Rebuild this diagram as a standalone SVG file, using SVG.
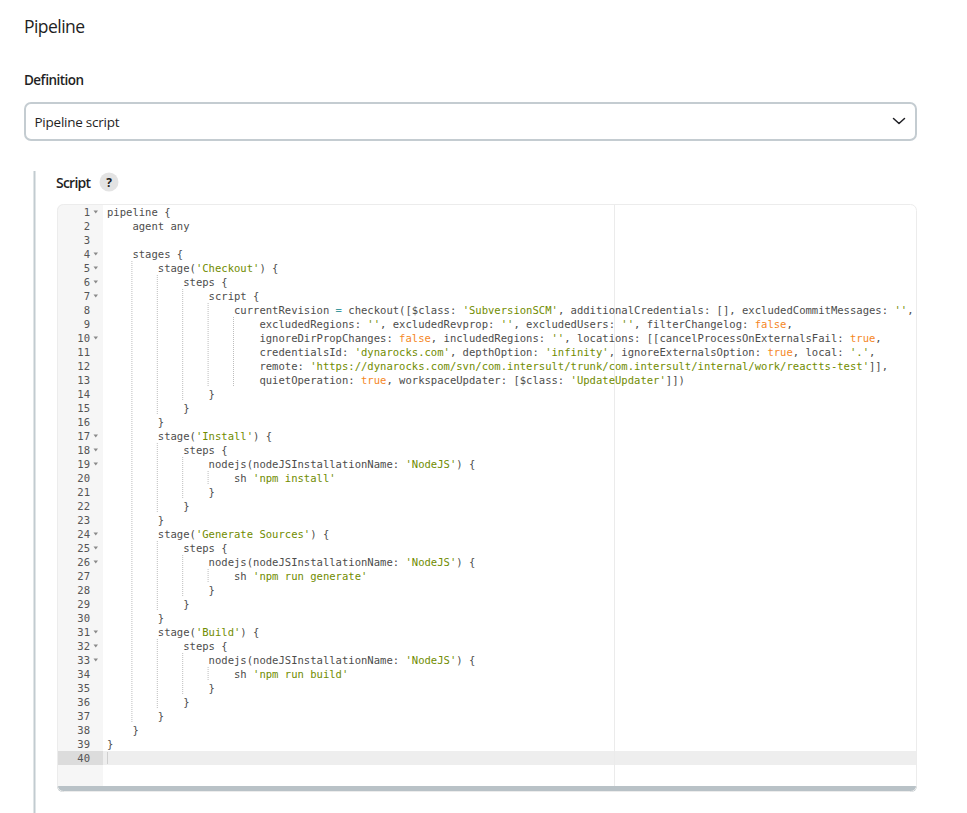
<svg xmlns="http://www.w3.org/2000/svg" width="967" height="813" viewBox="0 0 967 813">
<style>
.ui{font-family:"Open Sans","Noto Sans","Liberation Sans",sans-serif;fill:#1f1f24}
.code{font-family:"DejaVu Sans Mono","Liberation Mono",monospace;font-size:10.55px;fill:#4d4d4c}
.ln{font-family:"DejaVu Sans Mono","Liberation Mono",monospace;font-size:10.55px;fill:#555;text-anchor:end}
.s{fill:#718c00}
.c{fill:#f5871f}
.o{fill:#3e999f}
.g{stroke:#bdbdbd;stroke-width:1;stroke-dasharray:1 1;fill:none}
.f{fill:#8a8a8a}
</style>
<defs>
<clipPath id="ed"><rect x="57" y="204" width="860" height="588" rx="6"/></clipPath>
</defs>
<rect width="967" height="813" fill="#fff"/>

<g id="header">
<text class="ui" x="24" y="33" font-size="17.5" font-weight="500" textLength="61">Pipeline</text>
<text class="ui" x="24" y="85" font-size="13.5" font-weight="600" textLength="60">Definition</text>
</g>

<g id="select">
<rect x="25" y="103" width="891" height="37" rx="6" fill="#fff" stroke="#c4ccd1" stroke-width="2"/>
<text class="ui" x="34.5" y="127" font-size="13.5" textLength="85">Pipeline script</text>
<path d="M893.5 118.5 L899 123.5 L904.5 118.5" fill="none" stroke="#1f1f24" stroke-width="1.5" stroke-linecap="round" stroke-linejoin="round"/>
</g>

<rect id="bar" x="33.5" y="171" width="2" height="642" fill="#c2cbd0"/>

<g id="script-label">
<text class="ui" x="56" y="187.5" font-size="14" font-weight="600" textLength="35">Script</text>
<circle cx="109" cy="182" r="9.5" fill="#e3e3e3"/>
<text class="ui" x="109" y="186.5" font-size="12" font-weight="700" text-anchor="middle">?</text>
</g>

<g id="editor">
<g clip-path="url(#ed)">
<rect x="57" y="204" width="860" height="588" fill="#fff"/>
<rect x="57" y="204" width="46" height="588" fill="#f6f6f6"/>
<rect x="103" y="751" width="814" height="14" fill="#eeeeee"/>
<rect x="57" y="751" width="46" height="14" fill="#dcdcdc"/>
<line x1="614.5" y1="204" x2="614.5" y2="786" stroke="#ebebeb" stroke-width="1"/>
<rect x="57" y="786" width="860" height="6" fill="#b9c2c7"/>
</g>
<rect x="57.5" y="204.5" width="859" height="587" rx="6" fill="none" stroke="#ececec" stroke-width="1"/>
<line x1="107.5" y1="752" x2="107.5" y2="764" stroke="#cfcfcf" stroke-width="1"/>

<g id="guides">
<line class="g" x1="131.9" y1="261" x2="131.9" y2="723"/>
<line class="g" x1="157.3" y1="275" x2="157.3" y2="415"/>
<line class="g" x1="157.3" y1="443" x2="157.3" y2="513"/>
<line class="g" x1="157.3" y1="541" x2="157.3" y2="611"/>
<line class="g" x1="157.3" y1="639" x2="157.3" y2="709"/>
<line class="g" x1="182.7" y1="289" x2="182.7" y2="401"/>
<line class="g" x1="182.7" y1="457" x2="182.7" y2="499"/>
<line class="g" x1="182.7" y1="555" x2="182.7" y2="597"/>
<line class="g" x1="182.7" y1="653" x2="182.7" y2="695"/>
<line class="g" x1="208.1" y1="303" x2="208.1" y2="387"/>
<line class="g" x1="208.1" y1="471" x2="208.1" y2="485"/>
<line class="g" x1="208.1" y1="569" x2="208.1" y2="583"/>
<line class="g" x1="208.1" y1="667" x2="208.1" y2="681"/>
<line class="g" x1="233.5" y1="317" x2="233.5" y2="387"/>
</g>

<g id="line-numbers">
<text class="ln" x="90" y="215.5">1</text>
<text class="ln" x="90" y="229.5">2</text>
<text class="ln" x="90" y="243.5">3</text>
<text class="ln" x="90" y="257.5">4</text>
<text class="ln" x="90" y="271.5">5</text>
<text class="ln" x="90" y="285.5">6</text>
<text class="ln" x="90" y="299.5">7</text>
<text class="ln" x="90" y="313.5">8</text>
<text class="ln" x="90" y="327.5">9</text>
<text class="ln" x="90" y="341.5">10</text>
<text class="ln" x="90" y="355.5">11</text>
<text class="ln" x="90" y="369.5">12</text>
<text class="ln" x="90" y="383.5">13</text>
<text class="ln" x="90" y="397.5">14</text>
<text class="ln" x="90" y="411.5">15</text>
<text class="ln" x="90" y="425.5">16</text>
<text class="ln" x="90" y="439.5">17</text>
<text class="ln" x="90" y="453.5">18</text>
<text class="ln" x="90" y="467.5">19</text>
<text class="ln" x="90" y="481.5">20</text>
<text class="ln" x="90" y="495.5">21</text>
<text class="ln" x="90" y="509.5">22</text>
<text class="ln" x="90" y="523.5">23</text>
<text class="ln" x="90" y="537.5">24</text>
<text class="ln" x="90" y="551.5">25</text>
<text class="ln" x="90" y="565.5">26</text>
<text class="ln" x="90" y="579.5">27</text>
<text class="ln" x="90" y="593.5">28</text>
<text class="ln" x="90" y="607.5">29</text>
<text class="ln" x="90" y="621.5">30</text>
<text class="ln" x="90" y="635.5">31</text>
<text class="ln" x="90" y="649.5">32</text>
<text class="ln" x="90" y="663.5">33</text>
<text class="ln" x="90" y="677.5">34</text>
<text class="ln" x="90" y="691.5">35</text>
<text class="ln" x="90" y="705.5">36</text>
<text class="ln" x="90" y="719.5">37</text>
<text class="ln" x="90" y="733.5">38</text>
<text class="ln" x="90" y="747.5">39</text>
<text class="ln" x="90" y="761.5">40</text>
</g>

<g id="fold-markers">
<path class="f" d="M93.5 210.5h4.5l-2.25 3z"/>
<path class="f" d="M93.5 252.5h4.5l-2.25 3z"/>
<path class="f" d="M93.5 266.5h4.5l-2.25 3z"/>
<path class="f" d="M93.5 280.5h4.5l-2.25 3z"/>
<path class="f" d="M93.5 294.5h4.5l-2.25 3z"/>
<path class="f" d="M93.5 336.5h4.5l-2.25 3z"/>
<path class="f" d="M93.5 434.5h4.5l-2.25 3z"/>
<path class="f" d="M93.5 448.5h4.5l-2.25 3z"/>
<path class="f" d="M93.5 462.5h4.5l-2.25 3z"/>
<path class="f" d="M93.5 532.5h4.5l-2.25 3z"/>
<path class="f" d="M93.5 546.5h4.5l-2.25 3z"/>
<path class="f" d="M93.5 560.5h4.5l-2.25 3z"/>
<path class="f" d="M93.5 630.5h4.5l-2.25 3z"/>
<path class="f" d="M93.5 644.5h4.5l-2.25 3z"/>
<path class="f" d="M93.5 658.5h4.5l-2.25 3z"/>
</g>

<g id="code">
<text class="code" x="107" y="215.5">pipeline {</text>
<text class="code" x="132.4" y="229.5">agent any</text>
<text class="code" x="132.4" y="257.5">stages {</text>
<text class="code" x="157.8" y="271.5">stage(<tspan class="s">'Checkout'</tspan>) {</text>
<text class="code" x="183.2" y="285.5">steps {</text>
<text class="code" x="208.6" y="299.5">script {</text>
<text class="code" x="234" y="313.5">currentRevision <tspan class="o">=</tspan> checkout([$class: <tspan class="s">'SubversionSCM'</tspan>, additionalCredentials: [], excludedCommitMessages: <tspan class="s">''</tspan>,</text>
<text class="code" x="259.4" y="327.5">excludedRegions: <tspan class="s">''</tspan>, excludedRevprop: <tspan class="s">''</tspan>, excludedUsers: <tspan class="s">''</tspan>, filterChangelog: <tspan class="c">false</tspan>,</text>
<text class="code" x="259.4" y="341.5">ignoreDirPropChanges: <tspan class="c">false</tspan>, includedRegions: <tspan class="s">''</tspan>, locations: [[cancelProcessOnExternalsFail: <tspan class="c">true</tspan>,</text>
<text class="code" x="259.4" y="355.5">credentialsId: <tspan class="s">'dynarocks.com'</tspan>, depthOption: <tspan class="s">'infinity'</tspan>, ignoreExternalsOption: <tspan class="c">true</tspan>, local: <tspan class="s">'.'</tspan>,</text>
<text class="code" x="259.4" y="369.5">remote: <tspan class="s">'https://dynarocks.com/svn/com.intersult/trunk/com.intersult/internal/work/reactts-test'</tspan>]],</text>
<text class="code" x="259.4" y="383.5">quietOperation: <tspan class="c">true</tspan>, workspaceUpdater: [$class: <tspan class="s">'UpdateUpdater'</tspan>]])</text>
<text class="code" x="208.6" y="397.5">}</text>
<text class="code" x="183.2" y="411.5">}</text>
<text class="code" x="157.8" y="425.5">}</text>
<text class="code" x="157.8" y="439.5">stage(<tspan class="s">'Install'</tspan>) {</text>
<text class="code" x="183.2" y="453.5">steps {</text>
<text class="code" x="208.6" y="467.5">nodejs(nodeJSInstallationName: <tspan class="s">'NodeJS'</tspan>) {</text>
<text class="code" x="234" y="481.5">sh <tspan class="s">'npm install'</tspan></text>
<text class="code" x="208.6" y="495.5">}</text>
<text class="code" x="183.2" y="509.5">}</text>
<text class="code" x="157.8" y="523.5">}</text>
<text class="code" x="157.8" y="537.5">stage(<tspan class="s">'Generate Sources'</tspan>) {</text>
<text class="code" x="183.2" y="551.5">steps {</text>
<text class="code" x="208.6" y="565.5">nodejs(nodeJSInstallationName: <tspan class="s">'NodeJS'</tspan>) {</text>
<text class="code" x="234" y="579.5">sh <tspan class="s">'npm run generate'</tspan></text>
<text class="code" x="208.6" y="593.5">}</text>
<text class="code" x="183.2" y="607.5">}</text>
<text class="code" x="157.8" y="621.5">}</text>
<text class="code" x="157.8" y="635.5">stage(<tspan class="s">'Build'</tspan>) {</text>
<text class="code" x="183.2" y="649.5">steps {</text>
<text class="code" x="208.6" y="663.5">nodejs(nodeJSInstallationName: <tspan class="s">'NodeJS'</tspan>) {</text>
<text class="code" x="234" y="677.5">sh <tspan class="s">'npm run build'</tspan></text>
<text class="code" x="208.6" y="691.5">}</text>
<text class="code" x="183.2" y="705.5">}</text>
<text class="code" x="157.8" y="719.5">}</text>
<text class="code" x="132.4" y="733.5">}</text>
<text class="code" x="107" y="747.5">}</text>
</g>
</g>
</svg>
